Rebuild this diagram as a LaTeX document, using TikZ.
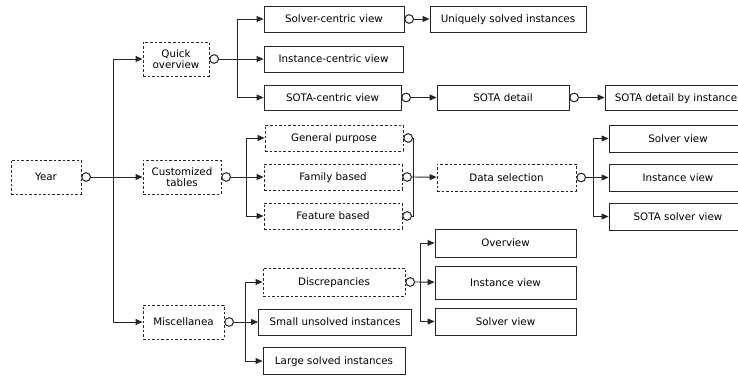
\documentclass[tikz,border=0pt]{standalone}
\usepackage{fontspec}
\setmainfont{DejaVu Sans}
\usetikzlibrary{arrows.meta}
\begin{document}
\begin{tikzpicture}[x=1pt,y=-1pt,
  font=\fontsize{10.3}{11.5}\selectfont,
  box/.style={draw=black!85, line width=0.9pt, inner sep=0pt, align=center, text height=7.4pt, text depth=0pt},
  dbox/.style={box, dash pattern=on 2.6pt off 2pt},
  twolines/.style={text height=, text depth=},
  port/.style={circle, draw=black!85, fill=white, minimum size=8.5pt, inner sep=0pt, line width=0.9pt, anchor=west},
  wire/.style={draw=black!85, line width=0.9pt},
  link/.style={wire, -{Triangle[length=7pt,width=6pt]}}]
\clip (0,0) rectangle (738,377);
% column 1
\node[dbox, minimum width=70pt, minimum height=34pt] (year) at (46,177) {Year};
% column 2
\node[dbox, twolines, minimum width=66pt, minimum height=34pt] (quick) at (176,59) {Quick\\overview};
\node[dbox, twolines, minimum width=78pt, minimum height=34pt] (cust) at (182,177) {Customized\\tables};
\node[dbox, minimum width=81pt, minimum height=34pt] (misc) at (183.5,322) {Miscellanea};
% column 3
\node[box, minimum width=140pt, minimum height=26pt] (scv) at (334,19) {Solver-centric view};
\node[box, minimum width=139pt, minimum height=26pt] (icv) at (333.5,59) {Instance-centric view};
\node[box, minimum width=137pt, minimum height=25pt] (sotacv) at (332.5,97.5) {SOTA-centric view};
\node[dbox, minimum width=138pt, minimum height=26pt] (genp) at (334,138) {General purpose};
\node[dbox, minimum width=138pt, minimum height=26pt] (fam) at (333,177) {Family based};
\node[dbox, minimum width=138pt, minimum height=26pt] (feat) at (333,216) {Feature based};
\node[dbox, minimum width=142pt, minimum height=28pt] (disc) at (334,282) {Discrepancies};
\node[box, minimum width=153pt, minimum height=26pt] (small) at (335,322) {Small unsolved instances};
\node[box, minimum width=142pt, minimum height=27pt] (large) at (334,361) {Large solved instances};
% column 4
\node[box, minimum width=156pt, minimum height=26pt] (uniq) at (508,19) {Uniquely solved instances};
\node[box, minimum width=132pt, minimum height=25pt] (sotad) at (503,97.5) {SOTA detail};
\node[dbox, minimum width=139pt, minimum height=27pt] (dsel) at (506.5,177.5) {Data selection};
\node[box, minimum width=141pt, minimum height=28pt] (ov) at (505.5,243) {Overview};
\node[box, minimum width=141pt, minimum height=33pt] (iv2) at (505.5,282.5) {Instance view};
\node[box, minimum width=141pt, minimum height=27pt] (sv2) at (505.5,321.5) {Solver view};
% column 5
\node[box, minimum width=142pt, minimum height=25pt] (sotadi) at (676,97.5) {SOTA detail by instance};
\node[box, minimum width=138pt, minimum height=27pt] (sv) at (678,138.5) {Solver view};
\node[box, minimum width=138pt, minimum height=27pt] (iv) at (678,177.5) {Instance view};
\node[box, minimum width=138pt, minimum height=27pt] (ssv) at (678,216.5) {SOTA solver view};
% ports
\node[port] (yearp) at (year.east) {};
\node[port] (quickp) at (quick.east) {};
\node[port] (custp) at (cust.east) {};
\node[port] (miscp) at (misc.east) {};
\node[port] (scvp) at (scv.east) {};
\node[port] (sotacvp) at (sotacv.east) {};
\node[port] (genpp) at (genp.east) {};
\node[port] (famp) at (fam.east) {};
\node[port] (featp) at (feat.east) {};
\node[port] (discp) at (disc.east) {};
\node[port] (sotadp) at (sotad.east) {};
\node[port] (dselp) at (dsel.east) {};
% branch points
\coordinate (b1) at (113,177);
\coordinate (b2) at (237,59);
\coordinate (b3) at (246,177);
\coordinate (b4) at (245,322);
\coordinate (m1) at (413,177);
\coordinate (b5) at (420,282);
\coordinate (b6) at (593,177.5);
% connectors
\draw[link] (yearp) -- (cust);
\draw[link] (b1) |- (quick.west);
\draw[link] (b1) |- (misc.west);
\draw[link] (quickp) -- (icv);
\draw[link] (b2) |- (scv.west);
\draw[link] (b2) |- (sotacv.west);
\draw[link] (scvp) -- (uniq);
\draw[link] (sotacvp) -- (sotad);
\draw[link] (sotadp) -- (sotadi);
\draw[link] (custp) -- (fam);
\draw[link] (b3) |- (genp.west);
\draw[link] (b3) |- (feat.west);
\draw[wire] (genpp.east) -| (m1);
\draw[wire] (featp.east) -| (m1);
\draw[link] (famp) -- (dsel);
\draw[link] (dselp) -- (iv);
\draw[link] (b6) |- (sv.west);
\draw[link] (b6) |- (ssv.west);
\draw[link] (miscp) -- (small);
\draw[link] (b4) |- (disc.west);
\draw[link] (b4) |- (large.west);
\draw[link] (discp) -- (iv2);
\draw[link] (b5) |- (ov.west);
\draw[link] (b5) |- (sv2.west);
% redraw ports on top
\foreach \p in {yearp,quickp,custp,miscp,scvp,sotacvp,genpp,famp,featp,discp,sotadp,dselp}
  \draw[draw=black!85, fill=white, line width=0.9pt] (\p) circle (4.25pt);
\end{tikzpicture}
\end{document}
